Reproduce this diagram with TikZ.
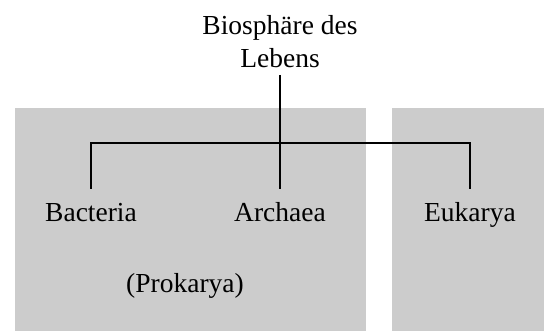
\documentclass[tikz,border=0pt]{standalone}
\usepackage{fontspec}
\setmainfont{Liberation Serif}
\usetikzlibrary{positioning}

\begin{document}
\begin{tikzpicture}[
        x=1pt, y=-1pt,
        domainbox/.style={fill=black!20, draw=none},
        bigtext/.style={font=\fontsize{27.5}{33}\selectfont},
        taxon/.style={bigtext, inner xsep=0pt, inner ysep=15pt, text height=18pt, anchor=base},
        branch/.style={line width=2.8pt}
    ]
        \useasboundingbox (0,0) rectangle (544,331);

        % --- shaded domains ---
        \fill[domainbox] (15,108) rectangle (366,331);
        \fill[domainbox] (392,108) rectangle (544,331);

        % --- root ---
        \node[bigtext, align=center, anchor=south, inner xsep=0pt, inner ysep=7pt] (root) at (280,75) {Biosphäre des\\Lebens};

        % --- leaves ---
        \node[taxon] (bacteria) at (91,222) {Bacteria};
        \node[taxon] (archaea) at (280,222) {Archaea};
        \node[taxon] (eukarya) at (470,222) {Eukarya};
        \node[taxon] (prokarya) at (185,293) {(Prokarya)};

        % --- tree ---
        \coordinate (hub) at (280,143);
        \draw[branch] (root.south) -- (archaea.north);
        \draw[branch] (bacteria.north) |- (hub) -| (eukarya.north);

    \end{tikzpicture}
\end{document}
